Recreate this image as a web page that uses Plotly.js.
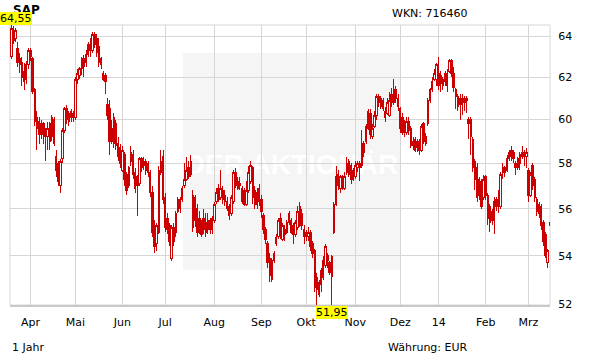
<!DOCTYPE html>
<html><head><meta charset="utf-8">
<script src="https://cdn.plot.ly/plotly-3.0.1.min.js"></script>
<style>html,body{margin:0;padding:0;background:#fff}#chart{width:611px;height:364px}
#chart .trace path{shape-rendering:crispEdges}</style>
</head><body><div id="chart"></div>
<script>
const openP = [
63.0,64.3,63.9,63.4,62.9,62.7,62.3,61.9,62.6,63.3,
62.9,61.4,60.1,59.9,59.3,59.8,59.4,59.2,59.0,59.2,
58.9,58.3,58.0,57.0,58.2,59.5,60.5,59.9,60.4,60.3,
60.1,61.9,62.1,62.4,62.5,62.7,63.1,63.6,63.3,64.1,
63.9,63.5,62.9,62.2,62.1,60.7,60.5,59.6,60.1,59.8,
58.9,58.7,57.7,58.4,57.5,57.0,58.1,58.4,57.6,57.4,
57.1,58.2,57.9,58.1,58.0,57.6,56.7,55.3,54.5,55.0,
57.6,58.3,56.5,55.6,55.3,53.9,55.2,55.0,55.9,56.4,
56.4,57.0,57.3,57.8,57.5,55.2,56.5,56.0,55.6,55.3,
55.6,55.4,55.1,55.5,55.1,55.5,56.3,56.9,56.5,56.8,
56.6,56.3,56.1,55.8,56.3,57.6,56.9,57.0,56.9,56.8,
56.2,56.8,57.2,57.8,56.8,56.2,56.9,56.4,55.7,55.1,
54.5,53.9,53.0,53.8,54.75,54.8,55.6,54.7,55.1,55.0,
55.4,55.5,55.3,54.9,55.2,56.1,55.8,55.1,55.0,54.8,
55.0,54.5,54.2,53.1,52.9,52.8,53.1,53.6,54.0,53.7,
53.15,55.0,56.2,57.5,56.9,57.4,56.9,57.6,58.1,57.9,
57.7,57.4,57.8,58.0,57.9,58.5,59.0,59.6,60.3,59.2,
59.7,60.2,60.8,61.0,60.9,60.1,60.3,60.2,61.2,60.8,
61.4,61.0,60.5,60.1,59.8,59.4,59.9,59.6,59.0,59.1,
59.0,59.0,58.6,59.8,58.9,59.8,60.9,61.4,61.9,61.9,
62.2,62.1,61.9,61.8,62.2,62.3,62.8,62.2,61.4,61.1,
61.0,60.7,61.0,61.0,60.0,60.0,59.1,58.1,57.8,56.6,
57.2,56.5,57.4,56.6,56.1,55.9,55.5,56.4,56.3,56.1,
57.6,57.8,57.7,58.2,58.6,58.5,58.0,57.8,58.0,58.3,
58.5,58.3,57.7,56.6,57.9,57.3,56.4,55.8,56.1,55.4,
54.9,53.7,55.4];
const highP = [
64.55,64.5,64.4,63.7,63.2,63.0,62.7,62.8,63.4,63.4,
63.0,61.5,60.4,60.1,60.0,59.9,59.6,59.9,59.9,60.2,
60.1,58.6,58.1,58.2,59.6,60.6,60.7,60.4,60.5,60.4,
62.0,62.4,62.5,63.0,63.1,63.3,63.7,63.9,64.2,64.2,
64.1,63.9,63.0,62.3,62.2,61.0,60.9,60.0,60.3,60.0,
59.2,58.9,58.8,58.5,57.6,57.9,58.8,58.6,57.8,57.5,
58.3,58.3,58.3,58.2,58.1,57.7,57.0,55.5,55.4,57.9,
58.6,58.6,56.7,55.8,55.4,55.3,55.4,55.9,56.5,56.5,
57.0,58.0,58.3,58.1,58.4,56.8,56.6,56.2,55.9,55.5,
56.0,55.8,55.8,55.6,55.7,56.3,56.9,57.1,57.7,57.0,
56.8,56.5,56.2,56.6,57.7,57.8,57.4,57.4,57.0,56.9,
57.2,57.9,58.1,57.9,57.0,56.9,57.1,56.6,55.8,55.2,
54.6,54.1,53.9,54.2,54.9,55.6,55.8,55.4,55.3,55.5,
55.9,55.6,55.4,55.5,56.1,56.3,56.0,55.3,55.1,55.2,
55.1,54.6,54.3,53.3,53.0,53.5,54.0,54.5,54.1,53.8,
54.05,56.3,57.9,57.7,57.5,57.5,57.6,58.3,58.2,58.0,
57.8,58.1,58.1,58.1,59.5,59.0,59.8,60.5,60.5,59.8,
60.4,61.2,61.2,61.1,61.0,60.6,61.0,61.3,61.5,61.9,
61.6,61.2,60.6,60.3,60.0,60.1,60.1,59.7,59.2,59.2,
59.1,59.1,59.8,59.9,59.4,61.0,61.5,62.0,62.4,62.7,
63.0,62.3,62.0,62.3,62.4,62.9,62.9,62.5,61.5,61.2,
61.2,61.2,61.1,61.1,60.1,60.1,59.2,58.2,58.0,57.4,
57.3,57.5,57.5,56.7,56.2,56.0,56.5,56.5,56.8,57.6,
58.0,57.9,58.4,58.6,58.8,58.6,58.1,58.3,58.5,58.8,
58.6,58.7,57.8,57.6,58.0,57.4,56.5,56.3,56.2,55.5,
55.0,54.3,55.45];
const lowP = [
62.9,63.6,63.7,62.5,62.2,61.6,61.4,61.7,62.4,62.8,
61.2,59.7,58.6,58.9,59.1,58.9,58.1,58.6,58.6,59.0,
58.8,57.4,57.0,56.7,58.0,59.4,59.8,59.7,59.9,59.9,
60.0,61.7,61.9,62.1,62.0,62.5,63.0,63.0,63.2,63.4,
63.0,62.5,62.4,61.8,61.2,60.0,58.4,58.9,58.7,58.6,
58.1,57.8,57.6,57.0,56.6,56.9,57.9,57.3,56.7,55.7,
57.0,57.6,57.7,57.5,57.4,56.5,54.8,54.1,54.2,54.9,
57.5,56.2,55.0,54.9,54.4,53.8,54.4,54.8,55.8,55.8,
56.3,56.9,57.2,57.3,57.4,55.0,55.2,54.8,54.9,54.8,
54.9,54.8,54.9,54.9,54.9,55.4,56.2,56.3,56.4,56.2,
56.1,55.9,55.5,55.7,56.2,56.9,56.8,56.8,56.2,56.1,
56.1,56.7,57.1,56.2,56.0,56.0,56.1,55.6,54.9,54.5,
53.5,52.9,52.9,53.7,54.4,54.7,54.7,54.6,54.6,54.9,
55.3,54.9,54.5,54.8,55.1,55.2,55.1,54.5,54.6,54.6,
54.2,53.9,52.5,52.0,52.3,52.5,53.0,53.5,53.5,53.2,
51.95,54.9,56.1,56.8,56.7,56.8,56.8,57.5,57.4,57.1,
57.2,57.3,57.6,57.2,57.8,58.3,58.9,59.5,59.1,59.1,
59.6,60.0,60.6,60.5,60.4,59.9,60.2,60.1,60.6,60.7,
60.8,60.4,59.4,59.3,59.2,59.3,59.3,58.7,58.6,58.5,
58.5,58.4,58.5,58.9,58.8,59.7,60.8,61.3,61.8,61.6,
61.4,61.3,61.4,61.6,61.3,62.2,62.0,61.3,60.5,60.4,
60.0,60.2,60.4,60.3,59.1,58.4,57.6,56.8,56.3,56.4,
56.0,56.4,56.4,55.3,55.0,55.3,54.9,55.9,55.8,56.0,
57.3,57.4,57.6,58.1,58.1,58.0,57.5,57.7,57.7,58.2,
57.9,57.8,56.3,56.5,56.8,56.3,55.7,55.6,55.1,54.4,
53.9,53.5,55.25];
const closeP = [
64.4,63.8,64.3,62.7,62.6,62.0,61.8,62.6,63.3,63.0,
61.3,59.9,59.6,59.3,59.8,59.3,59.2,59.6,59.8,60.1,
60.0,57.7,57.2,58.1,59.5,60.5,60.0,60.3,60.1,60.1,
61.9,62.2,62.4,62.9,62.9,63.1,63.6,63.3,64.1,63.6,
63.2,62.7,62.6,61.9,61.8,60.2,59.0,59.0,58.9,58.8,
58.3,58.0,58.6,57.3,56.8,57.8,58.5,57.5,56.9,57.0,
58.2,57.8,58.1,57.7,57.6,56.7,55.0,54.4,55.3,57.7,
58.1,56.4,55.2,55.1,54.6,55.2,54.6,55.8,56.4,56.0,
56.9,57.3,57.7,57.4,58.1,56.6,55.5,55.0,55.0,54.9,
55.1,55.0,55.5,55.1,55.6,56.2,56.7,56.4,56.9,56.4,
56.3,56.0,55.7,56.5,57.6,57.0,57.2,57.1,56.3,56.2,
56.8,57.6,57.9,56.5,56.2,56.7,56.3,55.9,55.1,54.7,
53.7,53.2,53.8,54.1,54.5,55.5,54.9,55.3,54.9,55.4,
55.8,55.0,54.9,55.4,55.9,55.3,55.3,54.8,54.8,55.0,
54.4,54.1,52.7,52.6,52.4,53.4,53.8,54.4,53.8,53.3,
53.95,56.2,57.4,57.0,57.4,56.9,57.4,58.0,57.5,57.3,
57.3,57.9,58.0,57.8,58.9,58.9,59.7,60.4,59.3,59.6,
60.2,61.1,61.1,60.6,60.5,60.4,60.8,60.9,60.8,61.4,
61.0,60.6,59.6,59.4,59.4,59.9,59.5,58.8,58.8,58.6,
58.7,58.6,59.7,59.0,59.2,60.9,61.4,61.8,62.2,62.6,
61.6,61.7,61.6,62.2,61.6,62.8,62.2,61.5,61.1,60.6,
60.7,61.0,60.8,60.9,59.8,59.2,57.8,57.3,56.5,57.3,
56.1,57.3,56.6,55.6,55.4,55.5,56.3,56.1,56.1,57.5,
57.8,57.6,58.2,58.5,58.3,58.2,57.8,58.2,58.4,58.5,
58.3,58.5,56.6,57.5,57.0,56.5,55.9,56.2,55.3,54.6,
54.0,54.2,55.3];

const monthTickIdx = [9,30,52,72,95,117,138,161,182,200,222,242];
const monthTickText = ['Apr','Mai','Jun','Jul','Aug','Sep','Okt','Nov','Dez','14','Feb','Mrz'];
const priceTicks = [52,54,56,58,60,62,64];

const dayIdx = openP.map((_, i) => i);
const maxHigh = Math.max.apply(null, highP);
const minLow = Math.min.apply(null, lowP);
const minIdx = lowP.indexOf(minLow);
const fmt = v => v.toFixed(2).replace('.', ',');

const RED = '#cc0000';
const trace = {
  type: 'candlestick',
  x: dayIdx, open: openP, high: highP, low: lowP, close: closeP,
  increasing: {line: {color: RED, width: 1}, fillcolor: '#ffffff'},
  decreasing: {line: {color: RED, width: 1}, fillcolor: RED},
  whiskerwidth: 0,
  hoverinfo: 'skip',
  showlegend: false
};

const L = 10, R = 61, T = 25, B = 59;
const PW = 611 - L - R, PH = 364 - T - B;
const px = x => (x - L) / PW;
const py = y => (364 - B - y) / PH;

const plain = {showarrow: false, borderpad: 0, borderwidth: 0, font: {family: 'DejaVu Sans', size: 11, color: '#000'}};

const layout = {
  width: 611, height: 364,
  margin: {l: L, r: R, t: T, b: B, pad: 0},
  paper_bgcolor: '#ffffff', plot_bgcolor: '#ffffff',
  font: {family: 'DejaVu Sans', size: 11, color: '#000'},
  showlegend: false,
  boxgap: 0.04,
  xaxis: {
    range: [-0.6, 252.1],
    tickmode: 'array', tickvals: monthTickIdx, ticktext: monthTickText,
    showgrid: true, gridcolor: '#d6d6d6', gridwidth: 1,
    zeroline: false, showline: true, linecolor: '#c8c8c8', linewidth: 2,
    ticks: 'outside', ticklen: 6, tickcolor: 'rgba(0,0,0,0)',
    rangeslider: {visible: false}, fixedrange: true,
    tickfont: {family: 'DejaVu Sans', size: 11, color: '#000'}
  },
  yaxis: {
    type: 'log', side: 'right',
    range: [Math.log10(51.98), Math.log10(64.56)],
    tickmode: 'array', tickvals: priceTicks, ticktext: priceTicks.map(String),
    showgrid: true, gridcolor: '#d6d6d6', gridwidth: 1,
    zeroline: false, showline: false,
    ticks: 'outside', ticklen: 5, tickcolor: 'rgba(0,0,0,0)',
    fixedrange: true,
    tickfont: {family: 'DejaVu Sans', size: 11, color: '#000'}
  },
  shapes: [
    {type: 'rect', xref: 'paper', yref: 'paper', layer: 'below',
     x0: px(183), x1: px(400), y0: py(270), y1: py(53),
     fillcolor: '#f5f5f5', line: {width: 0},
     label: {text: '<b>DER AKTIONÄR</b>', textposition: 'middle center',
             font: {family: 'Liberation Sans', size: 28, color: '#ffffff'}}},
    {type: 'rect', xref: 'paper', yref: 'paper', layer: 'below',
     x0: 0, x1: 1, y0: 0, y1: 1, line: {color: '#d6d6d6', width: 1}}
  ],
  annotations: [
    Object.assign({}, plain, {xref: 'paper', yref: 'paper', x: px(13), y: py(10), xanchor: 'left', yanchor: 'middle',
      text: '<b>SAP</b>', font: {family: 'DejaVu Sans', size: 12, color: '#000'}}),
    Object.assign({}, plain, {xref: 'paper', yref: 'paper', x: px(0), y: 1, xanchor: 'left', yanchor: 'bottom',
      text: fmt(maxHigh), bgcolor: '#ffff00'}),
    Object.assign({}, plain, {xref: 'x', yref: 'paper', x: minIdx, y: 0, yshift: -1, xanchor: 'center', yanchor: 'top',
      text: fmt(minLow), bgcolor: '#ffff00'}),
    Object.assign({}, plain, {xref: 'paper', yref: 'paper', x: px(392), y: py(14), xanchor: 'left', yanchor: 'middle',
      text: 'WKN: 716460'}),
    Object.assign({}, plain, {xref: 'paper', yref: 'paper', x: px(12), y: py(347), xanchor: 'left', yanchor: 'middle',
      text: '1 Jahr'}),
    Object.assign({}, plain, {xref: 'paper', yref: 'paper', x: px(388), y: py(347), xanchor: 'left', yanchor: 'middle',
      text: 'Währung: EUR'})
  ]
};

Plotly.newPlot('chart', [trace], layout, {staticPlot: true, displayModeBar: false});
</script>
</body></html>
